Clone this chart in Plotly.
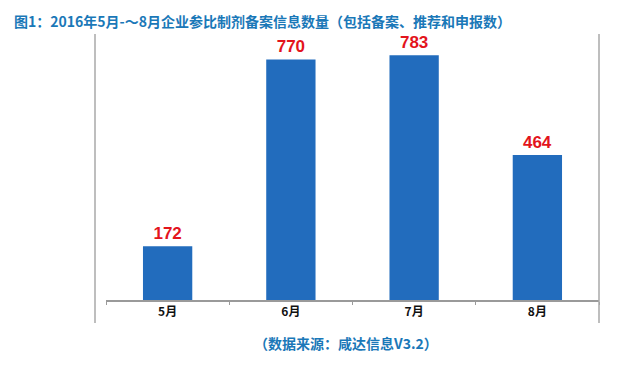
import plotly.graph_objects as go

months = ["5月", "6月", "7月", "8月"]
counts = [172, 770, 783, 464]
title_text = "图1：2016年5月-～8月企业参比制剂备案信息数量（包括备案、推荐和申报数）"
source_text = "（数据来源：咸达信息V3.2）"

FONT = "Noto Sans CJK SC, Liberation Sans, sans-serif"
BLUE_TXT = "#1a78b8"

fig = go.Figure(go.Bar(
    x=months, y=counts,
    marker=dict(color="#226cbd", line=dict(width=0)),
    text=[str(v) for v in counts],
    textposition="outside",
    textfont=dict(family="Liberation Sans, Arial, sans-serif", size=17, color="#e3141c", weight="bold"),
    cliponaxis=False,
    width=0.4,
))

fig.update_layout(
    width=619, height=365,
    margin=dict(l=106, r=20, t=50, b=65),
    paper_bgcolor="white", plot_bgcolor="white",
    showlegend=False,
    font=dict(family=FONT),
)
fig.update_xaxes(
    showline=True, linecolor="#9a9a9a", linewidth=1.5,
    ticks="outside", tickson="boundaries", ticklen=3, tickcolor="#9a9a9a",
    tickfont=dict(family=FONT, size=12, color="#111111", weight="bold"),
    showgrid=False, zeroline=False,
)
fig.update_yaxes(range=[0, 800], visible=False, showgrid=False, zeroline=False)

# title and source
fig.add_annotation(text=title_text, xref="paper", yref="paper",
                   x=-106/493 + 12/493, y=1 + 29/250, xanchor="left", yanchor="middle",
                   showarrow=False, font=dict(family=FONT, size=14, color=BLUE_TXT, weight="bold"))
fig.add_annotation(text=source_text, xref="paper", yref="paper",
                   x=(346 - 106)/493, y=-(343 - 300)/250, xanchor="center", yanchor="middle",
                   showarrow=False, font=dict(family=FONT, size=14, color=BLUE_TXT, weight="bold"))

# frame lines (left and right)
for px in (95, 599):
    xp = (px - 106) / 493
    fig.add_shape(type="line", xref="paper", yref="paper",
                  x0=xp, x1=xp, y0=-(323 - 300)/250, y1=(300 - 34)/250,
                  line=dict(color="#a8a8a8", width=1.5))

fig.write_html("out.html")
